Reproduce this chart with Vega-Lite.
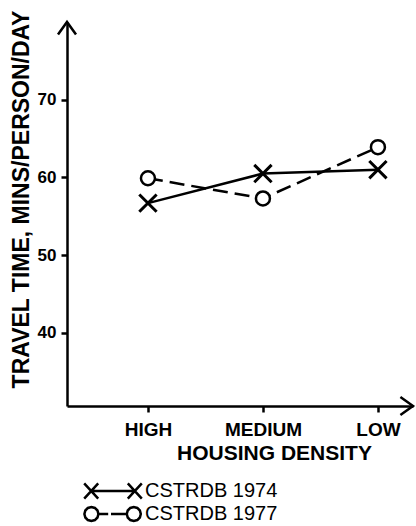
{
  "$schema": "https://vega.github.io/schema/vega-lite/v6.json",
  "description": "Travel time by housing density, CSTRDB 1974 and 1977",
  "width": 346,
  "height": 384,
  "autosize": {"type": "none"},
  "padding": {"left": 67, "top": 22, "right": 3, "bottom": 120},
  "config": {"view": {"stroke": null}, "font": "Liberation Sans"},
  "data": {
    "values": [
      {"density": "HIGH", "rank": 1, "survey": "CSTRDB 1974", "minutes": 56.7},
      {"density": "MEDIUM", "rank": 2, "survey": "CSTRDB 1974", "minutes": 60.5},
      {"density": "LOW", "rank": 3, "survey": "CSTRDB 1974", "minutes": 61.0},
      {"density": "HIGH", "rank": 1, "survey": "CSTRDB 1977", "minutes": 59.9},
      {"density": "MEDIUM", "rank": 2, "survey": "CSTRDB 1977", "minutes": 57.3},
      {"density": "LOW", "rank": 3, "survey": "CSTRDB 1977", "minutes": 63.9}
    ]
  },
  "encoding": {
    "x": {
      "field": "rank",
      "type": "quantitative",
      "scale": {"domain": [0.296, 3.305], "nice": false, "zero": false},
      "axis": {
        "title": "HOUSING DENSITY",
        "values": [1, 2, 3],
        "labelExpr": "datum.value == 1 ? 'HIGH' : datum.value == 2 ? 'MEDIUM' : 'LOW'",
        "grid": false,
        "domainColor": "black",
        "domainWidth": 2.5,
        "tickColor": "black",
        "tickWidth": 2.5,
        "tickSize": 6,
        "labelFont": "Liberation Sans",
        "labelFontSize": 19,
        "labelFontWeight": "bold",
        "labelColor": "black",
        "labelBaseline": "alphabetic",
        "labelPadding": 23,
        "labelFlush": false,
        "labelOverlap": false,
        "titleFont": "Liberation Sans",
        "titleFontSize": 21,
        "titleFontWeight": "bold",
        "titleColor": "black",
        "titleX": 207,
        "titleY": 53,
        "titleBaseline": "alphabetic",
        "titleAlign": "center"
      }
    },
    "y": {
      "field": "minutes",
      "type": "quantitative",
      "scale": {"domain": [30.6, 80], "nice": false, "zero": false},
      "axis": {
        "title": "TRAVEL TIME, MINS/PERSON/DAY",
        "values": [40, 50, 60, 70],
        "grid": false,
        "domainColor": "black",
        "domainWidth": 2.5,
        "tickColor": "black",
        "tickWidth": 2.5,
        "tickSize": 6,
        "labelFont": "Liberation Sans",
        "labelFontSize": 17,
        "labelFontWeight": "bold",
        "labelColor": "black",
        "labelPadding": 5,
        "titleFont": "Liberation Sans",
        "titleFontSize": 23,
        "titleFontWeight": "bold",
        "titleColor": "black",
        "titleAngle": 270,
        "titleX": -39,
        "titleY": 177,
        "titleBaseline": "alphabetic",
        "titleAlign": "center"
      }
    }
  },
  "layer": [
    {
      "mark": {"type": "point", "size": 0, "opacity": 1, "filled": false, "color": "black"},
      "encoding": {
        "shape": {
          "field": "survey",
          "type": "nominal",
          "scale": {
            "domain": ["CSTRDB 1974", "CSTRDB 1977"],
            "range": [
              "M-3.6,-0.95L-1.85,0.95M-3.6,0.95L-1.85,-0.95M-2.7,0L2.7,0M1.85,-0.95L3.6,0.95M1.85,0.95L3.6,-0.95",
              "M-1.825,0L-1.942,0.4375L-2.2625,0.758L-2.7,0.875L-3.1375,0.758L-3.458,0.4375L-3.575,0L-3.458,-0.4375L-3.1375,-0.758L-2.7,-0.875L-2.2625,-0.758L-1.942,-0.4375ZM-1.825,0L-0.6,0M-0.25,0L1.725,0M3.475,0L3.358,0.4375L3.0375,0.758L2.6,0.875L2.1625,0.758L1.842,0.4375L1.725,0L1.842,-0.4375L2.1625,-0.758L2.6,-0.875L3.0375,-0.758L3.358,-0.4375Z"
            ]
          },
          "legend": {
            "title": null,
            "orient": "none",
            "legendX": 36,
            "legendY": 459,
            "padding": 0,
            "symbolSize": 256,
            "symbolStrokeWidth": 2.5,
            "symbolStrokeColor": "black",
            "symbolFillColor": "transparent",
            "symbolOpacity": 1,
            "labelFont": "Liberation Sans",
            "labelFontSize": 20,
            "labelColor": "black",
            "labelOffset": 22,
            "labelLimit": 300,
            "rowPadding": -5
          }
        }
      }
    },
    {
      "transform": [{"filter": "datum.survey == 'CSTRDB 1974'"}],
      "mark": {"type": "line", "color": "black", "strokeWidth": 2.5},
      "encoding": {}
    },
    {
      "transform": [{"filter": "datum.survey == 'CSTRDB 1977'"}],
      "mark": {"type": "line", "color": "black", "strokeWidth": 2.5, "strokeDash": [15, 7]},
      "encoding": {}
    },
    {
      "transform": [{"filter": "datum.survey == 'CSTRDB 1974'"}],
      "mark": {
        "type": "point",
        "shape": "M-1,-1L1,1M-1,1L1,-1",
        "size": 300,
        "filled": false,
        "color": "black",
        "strokeWidth": 3,
        "opacity": 1
      }
    },
    {
      "transform": [{"filter": "datum.survey == 'CSTRDB 1977'"}],
      "mark": {
        "type": "point",
        "shape": "circle",
        "size": 196,
        "fill": "white",
        "stroke": "black",
        "strokeWidth": 2.5,
        "opacity": 1,
        "fillOpacity": 1
      }
    },
    {
      "data": {"values": [{"rank": 0.296, "minutes": 80}]},
      "mark": {
        "type": "point",
        "shape": "M-1,1.4L0,0L1,1.4",
        "size": 324,
        "filled": false,
        "color": "black",
        "strokeWidth": 2.5,
        "opacity": 1
      }
    },
    {
      "data": {"values": [{"rank": 3.305, "minutes": 30.6}]},
      "mark": {
        "type": "point",
        "shape": "M-1.4,-1L0,0L-1.4,1",
        "size": 324,
        "filled": false,
        "color": "black",
        "strokeWidth": 2.5,
        "opacity": 1
      }
    }
  ]
}
